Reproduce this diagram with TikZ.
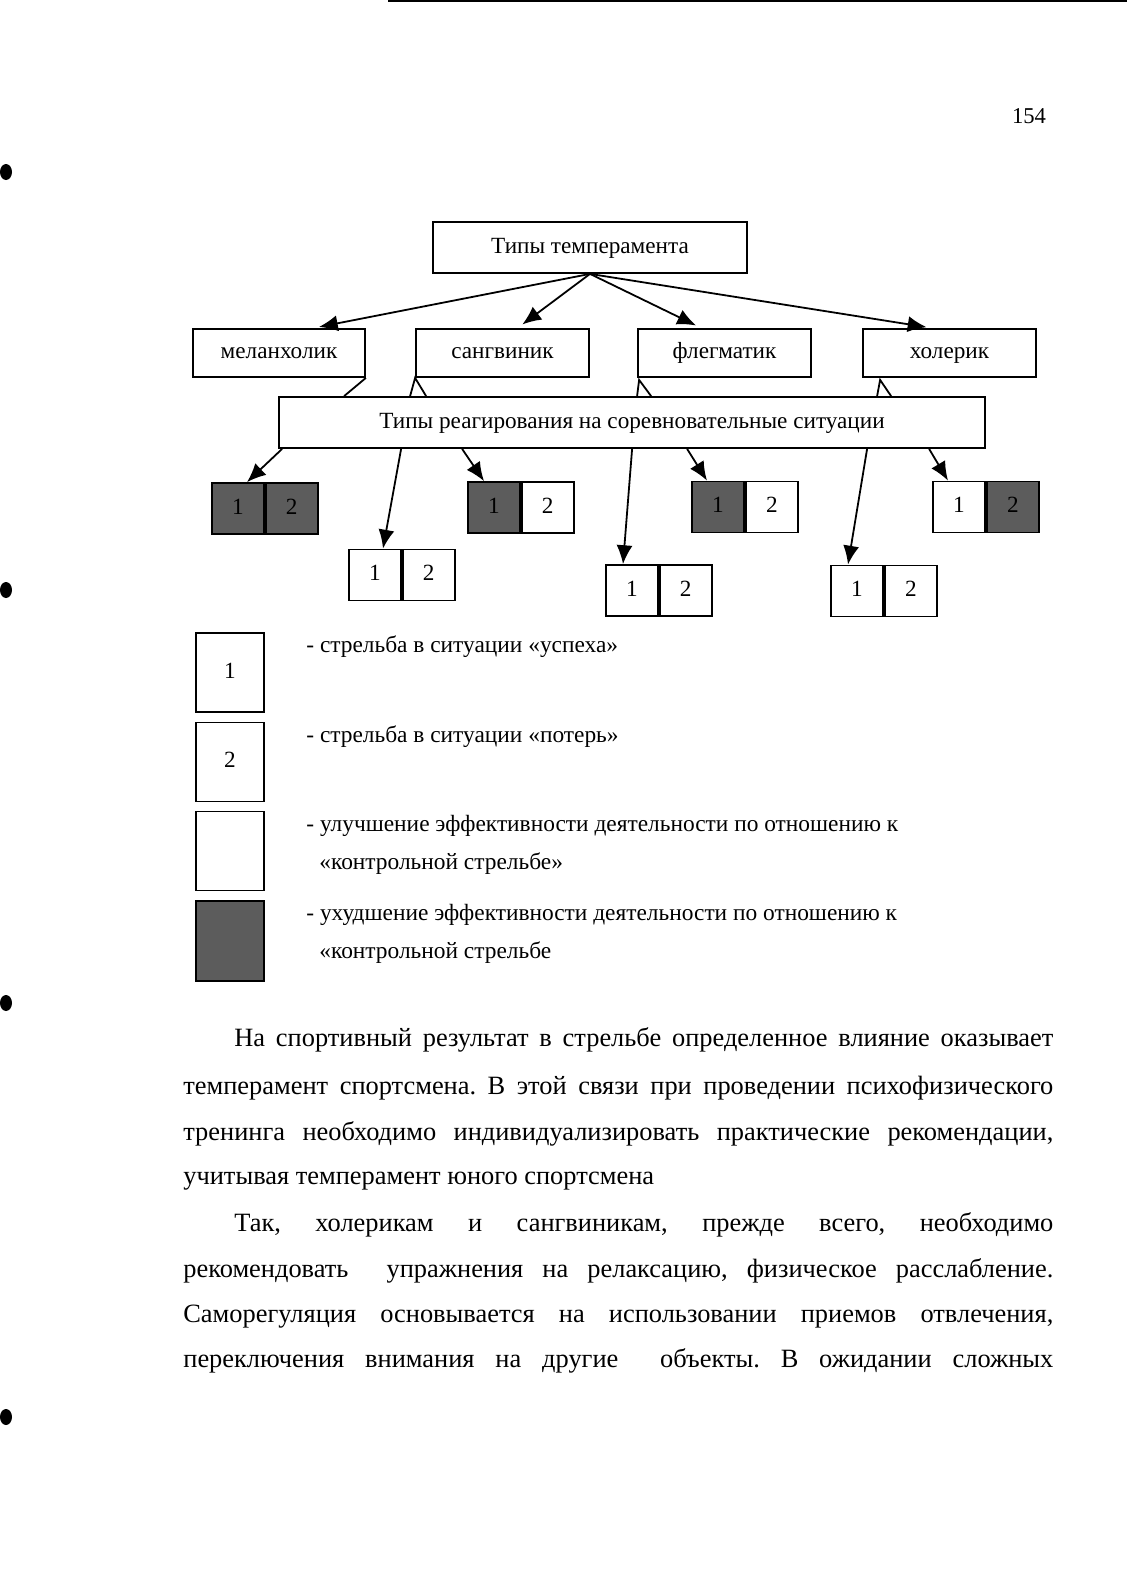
\documentclass[tikz,border=0pt]{standalone}
\usepackage{fontspec}
\setmainfont{Liberation Serif}
\usetikzlibrary{arrows.meta,positioning,calc}
\newlength{\pxu}
\setlength{\pxu}{0.18633mm}
\frenchspacing

\begin{document}
\begin{tikzpicture}[x=0.18633mm, y=-0.18633mm,
    box/.style={draw, line width=0.95pt, inner sep=0pt, text height=8.6pt, text depth=2.6pt,
        font=\fontsize{12.3}{14}\selectfont},
    cell/.style={box, minimum width=52\pxu, minimum height=51\pxu},
    dark/.style={cell, fill=black!64},
    legbox/.style={box, minimum width=68\pxu, minimum height=79\pxu},
    arr/.style={-{Latex[length=10pt,width=8.5pt]}, line width=0.95pt},
    legtext/.style={anchor=base west, inner sep=0pt, font=\fontsize{12.4}{14}\selectfont},
    bodytext/.style={anchor=base west, inner sep=0pt, font=\fontsize{14}{16}\selectfont}]

\fill[white] (0,0) rectangle (1127,1584);
\useasboundingbox (0,0) rectangle (1127,1584);

% scan marks
\draw[line width=1pt] (388,1) -- (1127,1);
\foreach \y in {172,590,1003,1417}
    \fill (6,\y) ellipse [x radius=6\pxu, y radius=8\pxu];

\node[font=\fontsize{12}{14}\selectfont] (page) at (1029,116) {154};

% temperament types
\node[box, minimum width=314\pxu, minimum height=51\pxu] (types) at (590,247.5) {Типы темперамента};
\node[box, minimum width=172\pxu, minimum height=48\pxu] (mel) at (279,353) {меланхолик};
\node[box, minimum width=173\pxu, minimum height=48\pxu] (san) at (502.5,353) {сангвиник};
\node[box, minimum width=173\pxu, minimum height=48\pxu] (fle) at (724.5,353) {флегматик};
\node[box, minimum width=173\pxu, minimum height=48\pxu] (hol) at (949.5,353) {холерик};
\node[box, minimum width=706\pxu, minimum height=51\pxu] (react) at (632,422.5) {Типы реагирования на соревновательные ситуации};

\draw[arr, shorten >=6\pxu] (types.south) -- ($(mel.north)+(34,0)$);
\draw[arr, shorten >=6\pxu] (types.south) -- ($(san.north)+(15,0)$);
\draw[arr, shorten >=6\pxu] (types.south) -- ($(fle.north)+(-23,0)$);
\draw[arr, shorten >=6\pxu] (types.south) -- ($(hol.north)+(-17,0)$);

% links down to the reaction box
\draw[line width=0.95pt] (mel.south east) -- ($(react.north west)+(66,0)$);
\draw[line width=0.95pt] ($(react.north west)+(132,0)$) -- (san.south west) -- ($(react.north west)+(148,0)$);
\draw[line width=0.95pt] ($(react.north west)+(359,0)$) -- ($(fle.south west)+(2,2)$) -- ($(react.north west)+(373,0)$);
\draw[line width=0.95pt] ($(react.north west)+(599,0)$) -- ($(hol.south west)+(18,2)$) -- ($(react.north west)+(613,0)$);

% reaction pairs
\node[dark] (a1) at (238,508.5) {1};
\node[dark, right=0pt of a1] (a2) {2};
\node[cell] (b1) at (375,575) {1};
\node[cell, right=0pt of b1] (b2) {2};
\node[dark] (c1) at (494,507.5) {1};
\node[cell, right=0pt of c1] (c2) {2};
\node[cell] (d1) at (632,590.5) {1};
\node[cell, right=0pt of d1] (d2) {2};
\node[dark] (e1) at (718,507) {1};
\node[cell, right=0pt of e1] (e2) {2};
\node[cell] (f1) at (857,591) {1};
\node[cell, right=0pt of f1] (f2) {2};
\node[cell] (g1) at (959,507) {1};
\node[dark, right=0pt of g1] (g2) {2};

\draw[arr] ($(react.south west)+(4,0)$) -- ($(a1.north)+(9,0)$);
\draw[arr] ($(react.south west)+(123,0)$) -- ($(b1.north)+(8,0)$);
\draw[arr] ($(react.south west)+(184,0)$) -- ($(c1.north)+(-10,0)$);
\draw[arr] ($(react.south west)+(354,0)$) -- ($(d1.north)+(-9,0)$);
\draw[arr] ($(react.south west)+(409,0)$) -- ($(e1.north)+(-11,0)$);
\draw[arr] ($(react.south west)+(589,0)$) -- ($(f1.north)+(-9,0)$);
\draw[arr] ($(react.south west)+(651,0)$) -- ($(g1.north)+(-11,0)$);

% legend
\node[legbox] (k1) at (230,672.5) {1};
\node[legbox] (k2) at (230,762) {2};
\node[legbox] (k3) at (230,851) {};
\node[legbox, fill=black!64, minimum height=80\pxu] (k4) at (230,941) {};
\node[legtext] (t1) at (306,652) {- стрельба в ситуации «успеха»};
\node[legtext] (t2) at (306,742) {- стрельба в ситуации «потерь»};
\node[legtext] (t3) at (306,831) {- улучшение эффективности деятельности по отношению к};
\node[legtext] (t3b) at (319,869) {«контрольной стрельбе»};
\node[legtext] (t4) at (306,920) {- ухудшение эффективности деятельности по отношению к};
\node[legtext] (t4b) at (319,958) {«контрольной стрельбе};

% body text
\node[bodytext] (p1) at (234,1046) {\makebox[819\pxu][s]{На спортивный результат в стрельбе определенное влияние оказывает}};
\node[bodytext] (p2) at (183,1094) {\makebox[870\pxu][s]{темперамент спортсмена. В этой связи при проведении психофизического}};
\node[bodytext] (p3) at (183,1140) {\makebox[870\pxu][s]{тренинга необходимо индивидуализировать практические рекомендации,}};
\node[bodytext] (p4) at (183,1184) {учитывая темперамент юного спортсмена};
\node[bodytext] (p5) at (234,1231) {\makebox[819\pxu][s]{Так, холерикам и сангвиникам, прежде всего, необходимо}};
\node[bodytext] (p6) at (183,1277) {\makebox[870\pxu][s]{рекомендовать \ упражнения на релаксацию, физическое расслабление.}};
\node[bodytext] (p7) at (183,1322) {\makebox[870\pxu][s]{Саморегуляция основывается на использовании приемов отвлечения,}};
\node[bodytext] (p8) at (183,1367) {\makebox[870\pxu][s]{переключения внимания на другие \ объекты. В ожидании сложных}};
\end{tikzpicture}
\end{document}
